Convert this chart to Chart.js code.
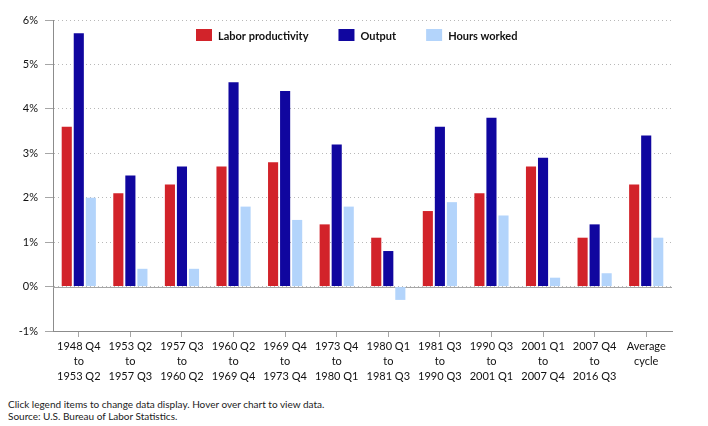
<!DOCTYPE html>
<html>
<head>
<meta charset="utf-8">
<script src="https://cdn.jsdelivr.net/npm/chart.js@4.4.1/dist/chart.umd.min.js"></script>
<style>
  html, body { margin: 0; padding: 0; background: #fff; }
  #wrap { position: relative; width: 708px; height: 426px; }
  #chart { position: absolute; left: 0; top: 0; }
  #note {
    position: absolute; left: 8px; top: 398px;
    font-family: Lato, sans-serif; font-size: 10px; line-height: 12px; color: #222;
  }
</style>
</head>
<body>
<div id="wrap">
  <canvas id="chart" width="708" height="391"></canvas>
  <div id="note">Click legend items to change data display. Hover over chart to view data.<br>Source: U.S. Bureau of Labor Statistics.</div>
</div>
<script>
// --- Productivity, output and hours by business cycle ---

// 1. Data
const categories = [
    ['1948 Q4', 'to', '1953 Q2'],
    ['1953 Q2', 'to', '1957 Q3'],
    ['1957 Q3', 'to', '1960 Q2'],
    ['1960 Q2', 'to', '1969 Q4'],
    ['1969 Q4', 'to', '1973 Q4'],
    ['1973 Q4', 'to', '1980 Q1'],
    ['1980 Q1', 'to', '1981 Q3'],
    ['1981 Q3', 'to', '1990 Q3'],
    ['1990 Q3', 'to', '2001 Q1'],
    ['2001 Q1', 'to', '2007 Q4'],
    ['2007 Q4', 'to', '2016 Q3'],
    ['Average', 'cycle']
];
const laborProductivity = [3.6, 2.1, 2.3, 2.7, 2.8, 1.4, 1.1, 1.7, 2.1, 2.7, 1.1, 2.3];
const output = [5.7, 2.5, 2.7, 4.6, 4.4, 3.2, 0.8, 3.6, 3.8, 2.9, 1.4, 3.4];
const hoursWorked = [2.0, 0.4, 0.4, 1.8, 1.5, 1.8, -0.3, 1.9, 1.6, 0.2, 0.3, 1.1];
const yTicks = [-1, 0, 1, 2, 3, 4, 5, 6];

const FONT = 'Lato, "Open Sans", sans-serif';

// 2. Helpers (zero line + in-plot legend)
const zeroLine = {
    id: 'zeroLine',
    beforeDatasetsDraw(chart) {
        const y = chart.scales.y.getPixelForValue(0);
        const { left, right } = chart.chartArea;
        const c = chart.ctx;
        c.save();
        c.strokeStyle = '#a6a6a6';
        c.lineWidth = 1;
        c.beginPath();
        c.moveTo(left, Math.round(y) + 0.5);
        c.lineTo(right, Math.round(y) + 0.5);
        c.stroke();
        c.restore();
    }
};

const plotLegend = {
    id: 'plotLegend',
    afterDraw(chart) {
        const c = chart.ctx;
        const sets = chart.data.datasets;
        c.save();
        c.font = 'bold 11px ' + FONT;
        c.textBaseline = 'middle';
        const boxW = 16, boxH = 12, gapText = 6, gapItem = 30;
        let x = 196;
        const y = 35;
        sets.forEach(d => {
            c.fillStyle = d.backgroundColor;
            c.fillRect(x, y - boxH / 2, boxW, boxH);
            c.fillStyle = '#111';
            c.fillText(d.label, x + boxW + gapText, y + 1);
            x += boxW + gapText + c.measureText(d.label).width + gapItem;
        });
        c.restore();
    }
};

// 3. Chart
const ctx = document.getElementById('chart').getContext('2d');
new Chart(ctx, {
    type: 'bar',
    data: {
        labels: categories,
        datasets: [
            { label: 'Labor productivity', data: laborProductivity, backgroundColor: '#d2232a' },
            { label: 'Output', data: output, backgroundColor: '#10069f' },
            { label: 'Hours worked', data: hoursWorked, backgroundColor: '#b3d4fb' }
        ]
    },
    options: {
        responsive: false,
        animation: false,
        layout: { padding: { top: 20, right: 36, left: 0, bottom: 0 } },
        datasets: {
            bar: { categoryPercentage: 0.70, barPercentage: 0.84 }
        },
        scales: {
            x: {
                offset: true,
                grid: {
                    offset: false,
                    drawOnChartArea: false,
                    drawTicks: true,
                    tickLength: 6,
                    color: '#a6a6a6'
                },
                border: { color: '#8c8c8c' },
                ticks: {
                    color: '#111',
                    padding: 2,
                    maxRotation: 0,
                    autoSkip: false,
                    font: { family: FONT, size: 11, lineHeight: 1.36 }
                },
                afterFit(scale) { scale.height = 60; }
            },
            y: {
                min: -1,
                max: 6,
                afterBuildTicks(scale) { scale.ticks = yTicks.map(v => ({ value: v })); },
                grid: {
                    color: '#b8b8b8',
                    tickColor: '#a6a6a6',
                    tickLength: 8,
                    tickBorderDash: [],
                    drawTicks: true
                },
                border: { color: '#8c8c8c', dash: [1, 3] },
                ticks: {
                    color: '#111',
                    padding: 7,
                    font: { family: FONT, size: 11 },
                    callback: v => v + '%'
                },
                afterFit(scale) { scale.width = 53; }
            }
        },
        plugins: {
            legend: { display: false },
            tooltip: { enabled: true }
        }
    },
    plugins: [zeroLine, plotLegend]
});
</script>
</body>
</html>
